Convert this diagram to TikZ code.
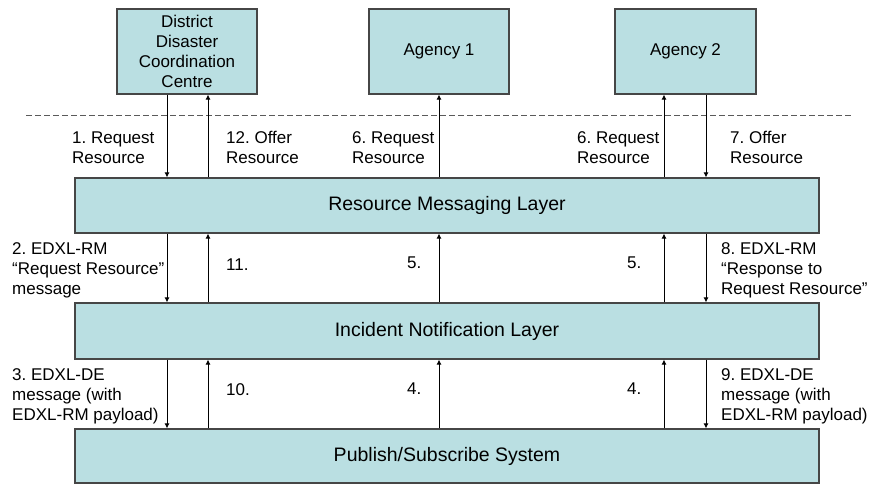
\documentclass[tikz,border=0pt]{standalone}
\usepackage{fontspec}
\setmainfont{Liberation Sans}
\usetikzlibrary{arrows.meta}
\frenchspacing

\definecolor{boxfill}{RGB}{186,223,226}
\definecolor{boxline}{RGB}{70,70,70}
\definecolor{dashgray}{RGB}{90,90,90}

\tikzset{
  party/.style={draw=boxline, fill=boxfill, line width=1.2pt, minimum width=140pt,
    minimum height=85pt, inner sep=0pt, align=center,
    font=\fontsize{17}{20}\selectfont},
  layer/.style={draw=boxline, fill=boxfill, line width=1.2pt, minimum width=744pt,
    inner sep=0pt, font=\fontsize{19.5}{23}\selectfont},
  % multi-line labels sit on the baseline of their last line
  lbl/.style={anchor=base west, inner sep=0pt, align=left,
    font=\fontsize{17}{20}\selectfont},
  flow/.style={line width=0.9pt, black, -{Latex[length=5pt,width=5pt]}},
  divider/.style={draw=dashgray, line width=0.8pt, dash pattern=on 6pt off 3pt}
}

\begin{document}
\begin{tikzpicture}[x=1pt, y=-1pt]
\useasboundingbox (0,0) rectangle (875,485);

% organisations above the line
\node[party] (ddcc) at (187,51.5) {District\\Disaster\\Coordination\\Centre};
\node[party] (ag1)  at (439,51.5) {Agency 1};
\node[party, minimum width=141pt] (ag2) at (685.5,51.5) {Agency 2};

% boundary between organisations and the messaging stack
\coordinate (dl) at (26,115);
\coordinate (dr) at (852,115);
\draw[divider] (dl) -- (dr);

% layered stack
\node[layer, minimum height=55pt] (rml) at (447,205.5) {Resource Messaging Layer};
\node[layer, minimum height=56pt] (inl) at (447,331) {Incident Notification Layer};
\node[layer, minimum height=54pt] (pss) at (447,456) {Publish/Subscribe System};

% message columns
\coordinate (ca) at (167,0);
\coordinate (cb) at (208,0);
\coordinate (cc) at (439,0);
\coordinate (cd) at (664,0);
\coordinate (ce) at (706,0);

% request path from the coordination centre down the stack
\draw[flow] (ddcc.south -| ca) -- (rml.north -| ca);
\draw[flow] (rml.south -| ca) -- (inl.north -| ca);
\draw[flow] (inl.south -| ca) -- (pss.north -| ca);

% offers travelling back up to the coordination centre
\draw[flow] (pss.north -| cb) -- (inl.south -| cb);
\draw[flow] (inl.north -| cb) -- (rml.south -| cb);
\draw[flow] (rml.north -| cb) -- (ddcc.south -| cb);

% delivery to Agency 1
\draw[flow] (pss.north -| cc) -- (inl.south -| cc);
\draw[flow] (inl.north -| cc) -- (rml.south -| cc);
\draw[flow] (rml.north -| cc) -- (ag1.south -| cc);

% delivery to Agency 2
\draw[flow] (pss.north -| cd) -- (inl.south -| cd);
\draw[flow] (inl.north -| cd) -- (rml.south -| cd);
\draw[flow] (rml.north -| cd) -- (ag2.south -| cd);

% Agency 2 response down the stack
\draw[flow] (ag2.south -| ce) -- (rml.north -| ce);
\draw[flow] (rml.south -| ce) -- (inl.north -| ce);
\draw[flow] (inl.south -| ce) -- (pss.north -| ce);

% step labels
\node[lbl] (l1)  at (72,163.5)  {1. Request\\Resource};
\node[lbl] (l12) at (226,163.5) {12. Offer\\Resource};
\node[lbl] (l6a) at (352,163.5) {6. Request\\Resource};
\node[lbl] (l6b) at (577,163.5) {6. Request\\Resource};
\node[lbl] (l7)  at (730,163.5) {7. Offer\\Resource};

\node[lbl] (l2)  at (12,294.5)  {2. EDXL-RM\\“Request Resource”\\message};
\node[lbl] (l11) at (226,270)   {11.};
\node[lbl] (l5a) at (407,268.5) {5.};
\node[lbl] (l5b) at (627,268)   {5.};
\node[lbl] (l8)  at (721,294.5) {8. EDXL-RM\\“Response to\\Request Resource”};

\node[lbl] (l3)  at (12,420)  {3. EDXL-DE\\message (with\\EDXL-RM payload)};
\node[lbl] (l10) at (226,395) {10.};
\node[lbl] (l4a) at (407,394) {4.};
\node[lbl] (l4b) at (627,394) {4.};
\node[lbl] (l9)  at (721,420) {9. EDXL-DE\\message (with\\EDXL-RM payload)};
\end{tikzpicture}
\end{document}
